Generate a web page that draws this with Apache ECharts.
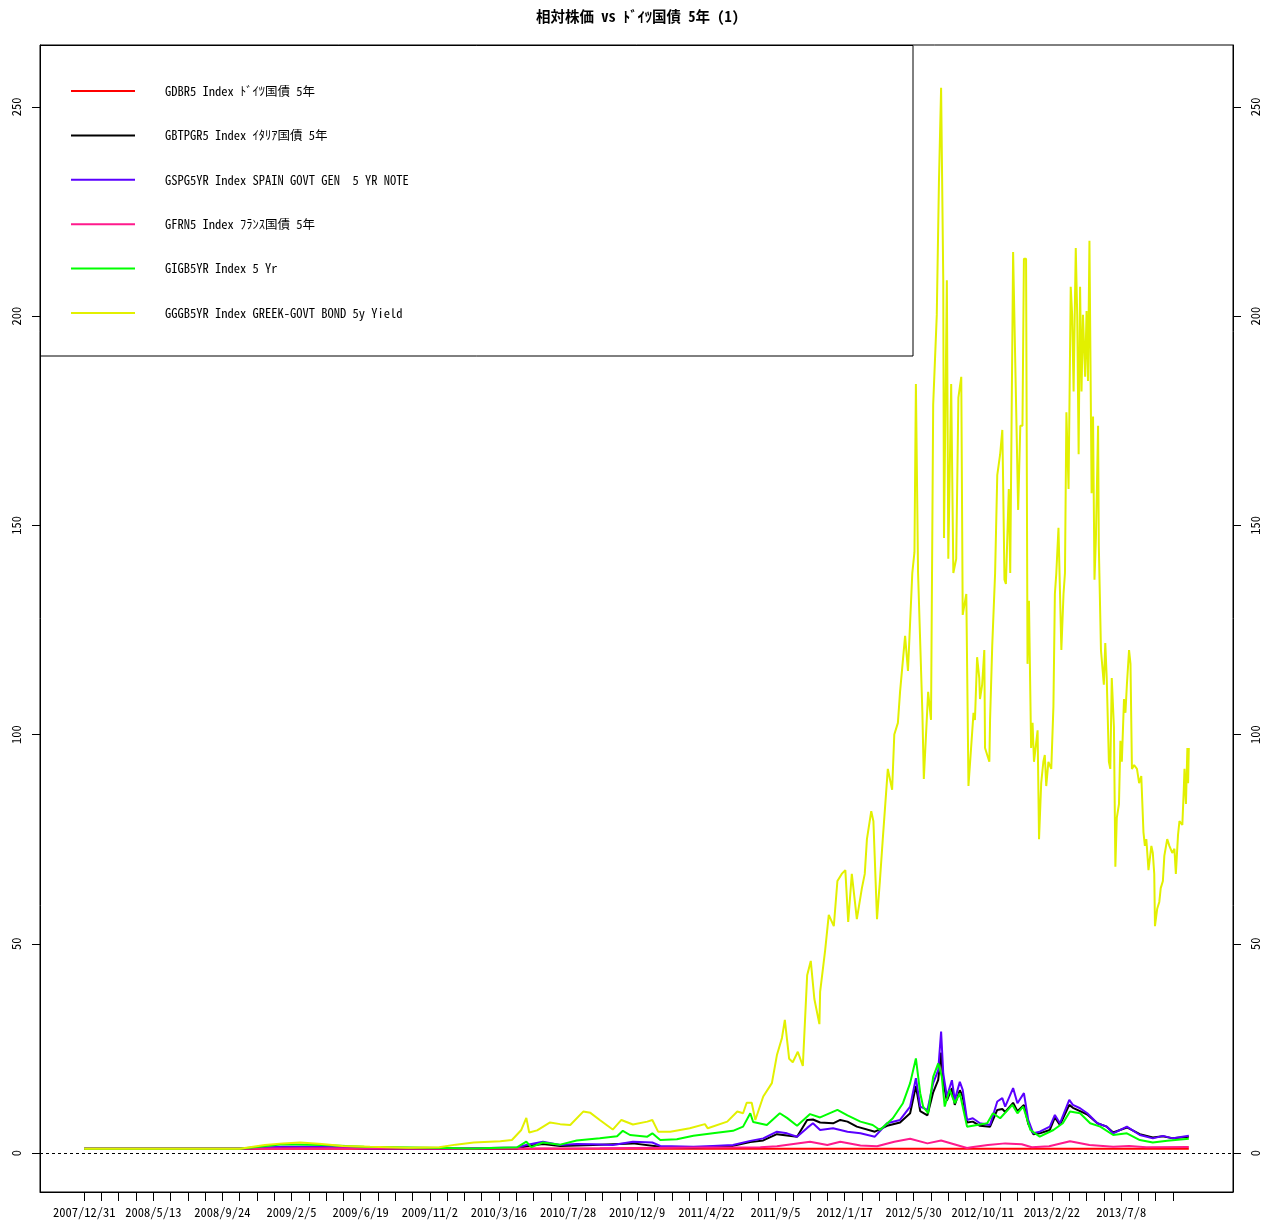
<!DOCTYPE html>
<html>
<head>
<meta charset="utf-8">
<script src="https://cdn.jsdelivr.net/npm/echarts@6/dist/echarts.min.js"></script>
<style>
html,body{margin:0;padding:0;background:#fff;}
#chart{width:1275px;height:1223px;}
</style>
</head>
<body>
<div id="chart"></div>
<script>
// Trading-day index (weekdays from 2007/12/31) and relative value (vs German Bund 5y)
const lastDay = 1534;
const tickStep = 24;
const labelStep = 96;
const dateLabels = ['2007/12/31','2008/5/13','2008/9/24','2009/2/5','2009/6/19','2009/11/2','2010/3/16','2010/7/28','2010/12/9','2011/4/22','2011/9/5','2012/1/17','2012/5/30','2012/10/11','2013/2/22','2013/7/8'];
const yTicks = [0, 50, 100, 150, 200, 250];

const seriesNames = [
  'GDBR5 Index ﾄﾞｲﾂ国債 5年',
  'GBTPGR5 Index ｲﾀﾘｱ国債 5年',
  'GSPG5YR Index SPAIN GOVT GEN  5 YR NOTE',
  'GFRN5 Index ﾌﾗﾝｽ国債 5年',
  'GIGB5YR Index 5 Yr',
  'GGGB5YR Index GREEK-GOVT BOND 5y Yield'
];
const seriesColors = ['#FF0000', '#000000', '#5A00FF', '#FF1A8C', '#00FF00', '#E2F000'];

const germany = [[0,1],[300,1],[600,1],[900,1],[1200,1],[1534,1]];

const italy = [[0,1.0],[216,1.0],[276,1.35],[330,1.35],[397,1.05],[522,1.0],[601,1.1],[614,1.6],[637,2.15],[661,1.7],[707,1.9],[762,2.3],[800,1.5],[846,1.3],[873,1.5],[901,1.7],[925,2.6],[943,3.0],[962,4.5],[976,4.2],[990,3.9],[1004,7.9],[1012,8.0],[1022,7.3],[1040,7.1],[1050,7.9],[1060,7.5],[1073,6.3],[1098,5.1],[1115,6.5],[1133,7.3],[1147,9.5],[1155,16.0],[1161,10.0],[1171,9.0],[1179,14.5],[1186,17.5],[1190,24.0],[1193,17.0],[1198,12.5],[1205,15.5],[1209,11.5],[1216,15.0],[1220,13.5],[1226,7.3],[1234,7.5],[1244,6.5],[1258,6.3],[1268,10.3],[1275,10.5],[1279,9.8],[1290,12.0],[1296,10.0],[1305,11.5],[1311,7.0],[1318,4.5],[1327,4.7],[1341,5.5],[1348,8.5],[1355,6.7],[1368,11.5],[1373,10.8],[1383,10.0],[1393,9.2],[1407,7.1],[1420,6.3],[1429,4.9],[1448,6.1],[1466,4.5],[1484,3.7],[1498,4.0],[1512,3.5],[1534,3.9]];

const spain = [[0,1.0],[216,1.0],[276,1.5],[330,1.5],[397,1.1],[522,1.1],[601,1.3],[614,1.9],[637,2.7],[661,1.9],[684,2.15],[707,2.1],[734,1.9],[762,2.7],[789,2.5],[800,1.7],[846,1.5],[873,1.7],[901,1.9],[925,2.9],[943,3.5],[962,5.1],[976,4.7],[990,3.9],[1004,6.0],[1012,7.1],[1022,5.5],[1040,5.9],[1050,5.5],[1060,5.1],[1078,4.7],[1098,3.9],[1115,7.1],[1133,7.9],[1147,11.1],[1155,17.9],[1161,11.1],[1171,10.3],[1179,16.7],[1186,19.8],[1190,29.0],[1193,19.0],[1198,13.5],[1205,17.4],[1209,12.7],[1216,17.0],[1220,15.1],[1226,7.9],[1234,8.3],[1244,7.1],[1258,6.7],[1268,12.3],[1275,13.1],[1279,11.1],[1290,15.5],[1296,11.9],[1305,14.3],[1311,7.9],[1318,4.7],[1327,5.1],[1341,6.3],[1348,9.1],[1355,7.1],[1368,12.7],[1373,11.5],[1383,10.7],[1393,9.5],[1407,7.1],[1420,6.3],[1429,4.7],[1448,6.3],[1466,4.3],[1484,3.5],[1498,4.1],[1512,3.5],[1534,4.1]];

const france = [[0,1.0],[216,1.0],[300,1.15],[411,1.05],[522,1.0],[716,1.15],[855,1.3],[939,1.36],[962,1.6],[1008,2.7],[1032,1.9],[1050,2.7],[1078,1.8],[1101,1.6],[1125,2.7],[1147,3.4],[1171,2.3],[1190,3.0],[1208,2.1],[1226,1.2],[1232,1.36],[1255,1.9],[1279,2.3],[1302,2.1],[1316,1.36],[1340,1.6],[1369,2.8],[1396,1.9],[1429,1.5],[1451,1.7],[1475,1.35],[1534,1.45]];

const ireland = [[0,1.0],[216,1.0],[276,2.1],[330,1.9],[389,1.5],[480,1.27],[540,1.1],[601,1.36],[614,2.7],[621,1.4],[637,2.5],[661,2.0],[684,3.0],[716,3.5],[740,4.0],[748,5.3],[758,4.3],[782,3.9],[789,4.7],[800,3.1],[823,3.3],[846,4.1],[873,4.7],[901,5.3],[915,6.3],[925,9.5],[929,7.4],[948,6.7],[966,9.5],[976,8.4],[990,6.5],[1008,9.3],[1022,8.5],[1046,10.3],[1060,9.0],[1078,7.5],[1095,6.7],[1105,5.5],[1123,8.3],[1137,11.9],[1147,16.7],[1155,22.6],[1161,14.3],[1165,11.1],[1172,9.5],[1179,18.2],[1186,21.4],[1191,18.2],[1195,11.1],[1202,15.1],[1209,11.9],[1216,14.3],[1226,6.3],[1240,6.7],[1254,7.1],[1262,9.5],[1272,8.3],[1289,11.5],[1296,9.5],[1304,11.1],[1314,5.5],[1327,3.9],[1346,5.5],[1359,7.1],[1369,9.9],[1383,9.5],[1397,7.1],[1411,6.3],[1429,4.3],[1448,4.7],[1466,3.1],[1484,2.5],[1504,2.9],[1534,3.4]];

const greece = [[0,1.0],[216,1.0],[251,1.9],[276,2.3],[300,2.5],[330,2.15],[359,1.7],[397,1.5],[450,1.27],[493,1.36],[516,2.0],[541,2.5],[578,2.8],[594,3.1],[607,5.5],[614,8.4],[618,4.9],[629,5.4],[647,7.3],[661,6.9],[675,6.7],[693,9.9],[703,9.6],[716,7.9],[734,5.6],[746,7.9],[762,6.8],[782,7.5],[789,7.9],[797,5.1],[814,5.1],[841,5.9],[862,6.9],[866,5.9],[893,7.5],[907,9.9],[915,9.5],[920,12.0],[927,12.0],[932,7.9],[943,13.5],[955,16.7],[962,23.4],[969,27.5],[973,31.8],[979,22.5],[984,21.7],[991,24.2],[998,20.8],[1004,42.5],[1009,45.9],[1014,36.8],[1021,30.8],[1022,38.5],[1029,48.5],[1034,56.9],[1041,54.2],[1046,65.0],[1052,66.7],[1057,67.6],[1061,55.2],[1066,66.7],[1073,55.9],[1080,63.3],[1084,66.7],[1087,75.0],[1093,81.7],[1096,79.3],[1101,55.9],[1105,65.0],[1109,75.0],[1116,91.8],[1122,86.8],[1125,100.0],[1130,102.8],[1133,110.2],[1140,123.6],[1144,115.2],[1150,138.6],[1153,143.6],[1155,183.8],[1158,138.6],[1164,105.2],[1166,89.4],[1172,110.2],[1176,103.5],[1179,178.8],[1184,200.3],[1187,232.0],[1190,254.6],[1193,208.6],[1194,147.0],[1198,208.6],[1200,142.0],[1204,183.8],[1207,138.6],[1211,142.0],[1214,180.5],[1218,185.5],[1220,128.6],[1225,133.6],[1228,87.7],[1235,105.2],[1237,103.5],[1240,118.5],[1243,113.5],[1244,108.5],[1247,111.9],[1250,120.2],[1251,96.8],[1257,93.5],[1258,103.5],[1261,121.2],[1265,138.6],[1268,162.0],[1272,167.0],[1275,172.8],[1276,162.0],[1278,137.0],[1280,136.0],[1284,158.7],[1286,138.6],[1290,215.3],[1293,188.8],[1297,153.7],[1300,173.8],[1303,173.8],[1305,213.7],[1308,213.7],[1310,116.9],[1312,132.0],[1315,96.8],[1317,102.8],[1319,93.5],[1324,101.0],[1326,75.0],[1329,88.4],[1332,93.5],[1334,95.1],[1336,87.7],[1339,93.5],[1343,91.8],[1346,106.8],[1348,133.6],[1350,138.6],[1353,149.4],[1354,142.0],[1357,120.2],[1360,133.6],[1362,138.6],[1364,177.0],[1367,158.7],[1370,207.0],[1372,200.3],[1374,182.0],[1377,216.3],[1379,200.3],[1381,167.0],[1383,207.0],[1385,182.0],[1387,200.3],[1390,185.5],[1392,201.2],[1394,184.5],[1396,218.0],[1399,157.7],[1401,176.0],[1403,137.0],[1405,147.0],[1408,173.8],[1409,145.3],[1412,120.2],[1416,111.9],[1418,121.9],[1420,113.5],[1423,93.5],[1425,91.8],[1427,113.5],[1430,101.8],[1432,68.4],[1434,80.1],[1437,83.4],[1439,98.5],[1441,93.5],[1444,108.5],[1446,105.2],[1448,111.9],[1451,120.2],[1453,116.9],[1455,91.8],[1458,92.7],[1462,91.8],[1465,88.4],[1468,90.1],[1471,76.7],[1473,73.4],[1475,75.0],[1478,67.6],[1482,73.4],[1484,71.7],[1486,66.7],[1487,54.2],[1490,58.3],[1493,60.0],[1495,63.3],[1498,65.0],[1500,71.0],[1504,75.0],[1507,73.4],[1511,71.7],[1514,72.7],[1516,66.7],[1519,76.0],[1521,79.3],[1525,78.4],[1527,86.8],[1528,91.8],[1530,83.4],[1532,96.8],[1533,88.4],[1534,96.8]];

const allData = [germany, italy, spain, france, ireland, greece];

const FONT = "'Noto Sans Mono CJK JP', 'Liberation Sans Narrow', 'Noto Sans CJK JP', sans-serif";

const tickValues = [];
for (let d = 0; d <= lastDay; d += tickStep) tickValues.push(d);
const labelValues = dateLabels.map((_, i) => i * labelStep);

const chart = echarts.init(document.getElementById('chart'), null, {renderer: 'canvas'});

const series = allData.map((data, i) => {
  const s = {
    name: seriesNames[i],
    type: 'line',
    data: data,
    symbol: 'none',
    showSymbol: false,
    lineStyle: {color: seriesColors[i], width: 2},
    itemStyle: {color: seriesColors[i]},
    emphasis: {disabled: true},
    silent: true
  };
  if (i === 0) {
    s.markLine = {
      silent: true,
      symbol: ['none', 'none'],
      label: {show: false},
      lineStyle: {color: '#000', type: [3, 3], width: 1},
      data: [{yAxis: 0}]
    };
  }
  return s;
});

function makeYAxis(pos, margin) {
  return {
    type: 'value',
    position: pos,
    min: -9.32,
    max: 264.8,
    splitLine: {show: false},
    axisLine: {show: true, onZero: false, lineStyle: {color: '#000', width: 1}},
    axisTick: {show: true, inside: false, length: 8, lineStyle: {color: '#000'}, customValues: yTicks},
    axisLabel: {rotate: 90, fontSize: 12.5, color: '#000', fontFamily: FONT, margin: margin, customValues: yTicks}
  };
}

const option = {
  animation: false,
  backgroundColor: '#fff',
  textStyle: {fontFamily: FONT},
  title: {
    text: '相対株価 vs ﾄﾞｲﾂ国債 5年 (1)',
    left: 'center',
    top: 4,
    textStyle: {fontSize: 14.5, fontWeight: 'bold', color: '#000', fontFamily: FONT}
  },
  legend: {
    left: 71,
    top: 84,
    orient: 'vertical',
    icon: 'rect',
    itemWidth: 64,
    itemHeight: 2,
    itemGap: 30.4,
    padding: 0,
    selectedMode: false,
    textStyle: {fontSize: 12.5, lineHeight: 14, color: '#000', fontFamily: FONT, padding: [0, 0, 0, 25]},
    data: seriesNames
  },
  graphic: [{
    type: 'rect',
    shape: {x: 40.5, y: 45.5, width: 872.5, height: 310.5},
    style: {fill: 'none', stroke: '#000', lineWidth: 1},
    silent: true,
    z: 10
  }],
  grid: {
    left: 40, right: 42, top: 45, bottom: 31,
    show: true, borderColor: '#000', borderWidth: 1, backgroundColor: 'transparent',
    containLabel: false
  },
  xAxis: {
    type: 'value',
    min: -0.04 * lastDay,
    max: lastDay * 1.04,
    splitLine: {show: false},
    axisLine: {show: true, onZero: false, lineStyle: {color: '#000'}},
    axisTick: {show: true, inside: false, length: 9, lineStyle: {color: '#000'}, customValues: tickValues},
    axisLabel: {
      fontSize: 12.5, color: '#000', fontFamily: FONT, margin: 14,
      customValues: labelValues,
      formatter: (v) => {
        const idx = Math.round(v / labelStep);
        return dateLabels[idx] !== undefined ? dateLabels[idx] : '';
      }
    }
  },
  yAxis: [makeYAxis('left', 17), makeYAxis('right', 16)],
  series: series
};

chart.setOption(option);
</script>
</body>
</html>
